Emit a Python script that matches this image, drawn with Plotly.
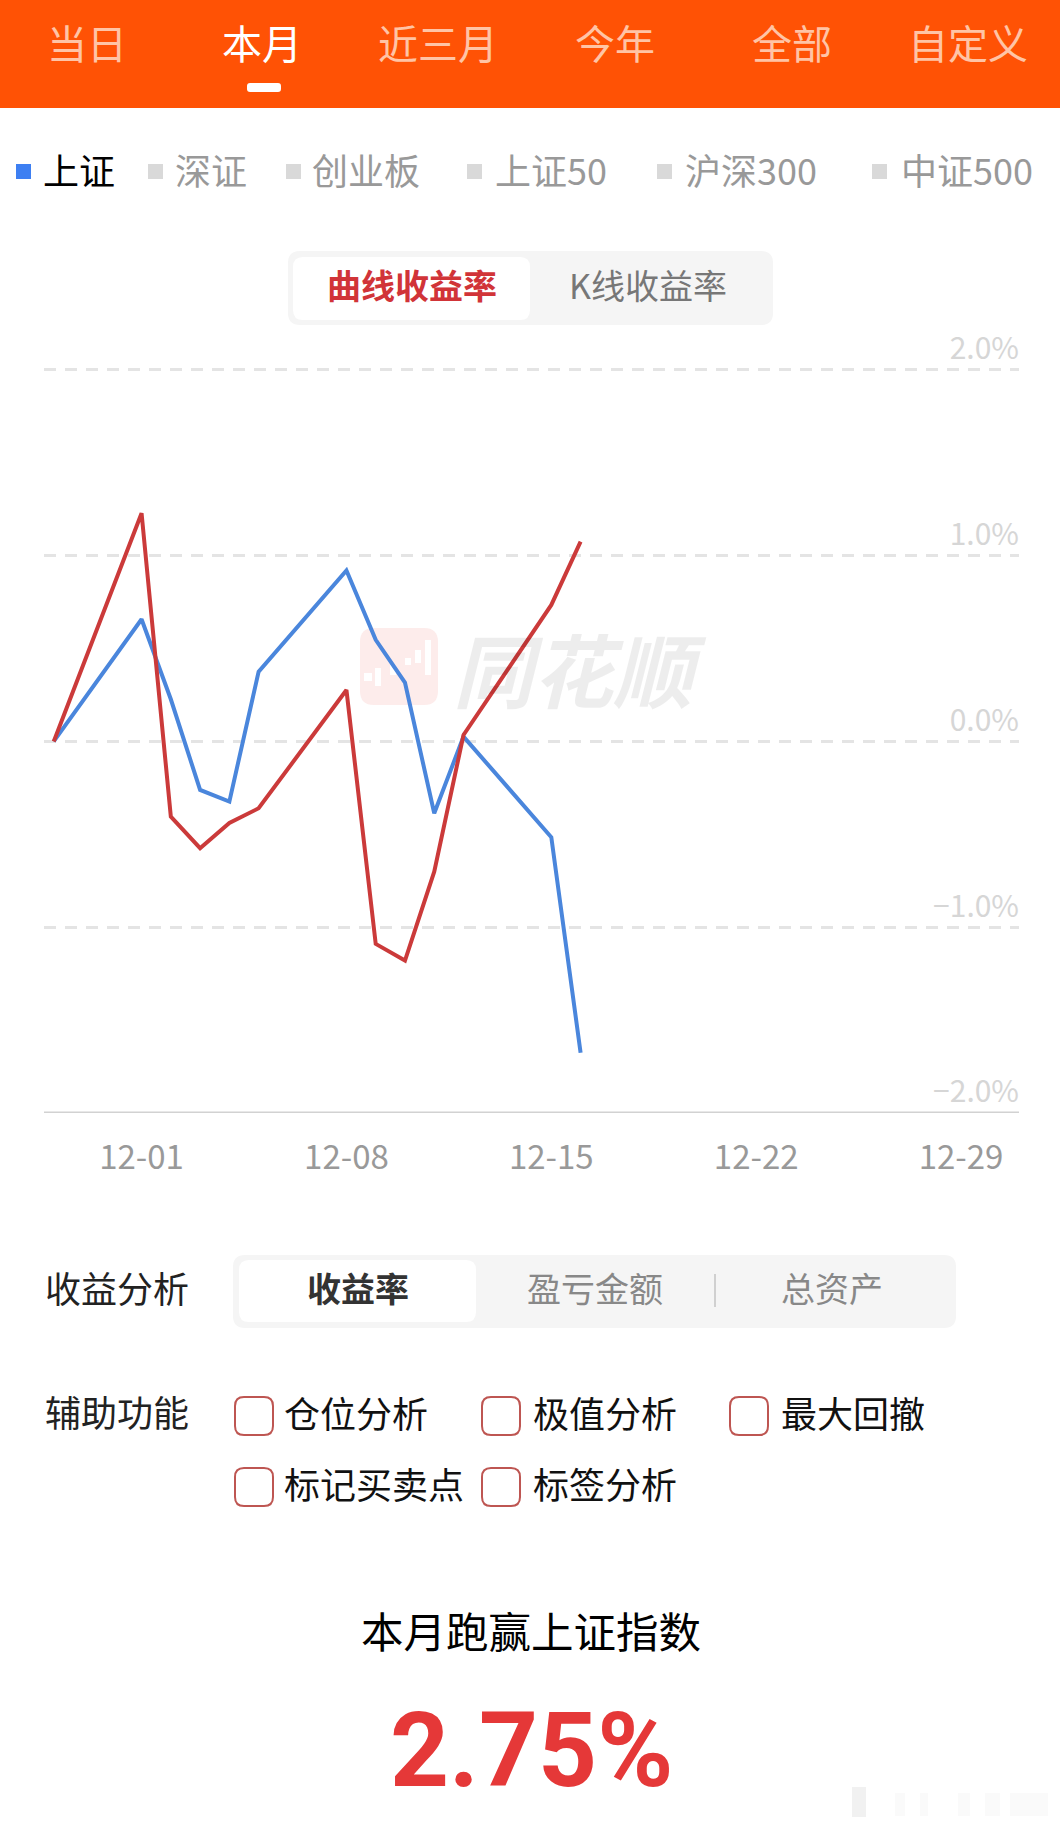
import plotly.graph_objects as go

W, H = 1060, 1829

# ---- data ----
dates = ["2025-11-28", "2025-12-01", "2025-12-02", "2025-12-03", "2025-12-04", "2025-12-05",
         "2025-12-08", "2025-12-09", "2025-12-10", "2025-12-11", "2025-12-12",
         "2025-12-15", "2025-12-16"]
index_return = [0.0, 0.658, 0.227, -0.261, -0.324, 0.376, 0.92, 0.547, 0.317, -0.387, 0.026, -0.516, -1.676]
account_return = [0.0, 1.229, -0.405, -0.575, -0.439, -0.36, 0.277, -1.09, -1.18, -0.701, 0.035, 0.735, 1.076]
y_ticks = [2, 1, 0, -1, -2]
y_labels = ["2.0%", "1.0%", "0.0%", "−1.0%", "−2.0%"]
x_ticks = ["2025-12-01", "2025-12-08", "2025-12-15", "2025-12-22", "2025-12-29"]
x_labels = ["12-01", "12-08", "12-15", "12-22", "12-29"]

CJK = "Noto Sans CJK SC"


def px(x):
    return x / W


def py(y):
    return 1 - y / H


shapes, annotations = [], []


def rect(x0, y0, x1, y1, color, layer="below"):
    shapes.append(dict(type="rect", xref="paper", yref="paper", x0=px(x0), x1=px(x1), y0=py(y0), y1=py(y1),
                       fillcolor=color, line_width=0, layer=layer))


def rrect(x0, y0, x1, y1, r, fill=None, line=None, lw=0, layer="below"):
    p = lambda x, y: f"{px(x):.5f},{py(y):.5f}"
    path = (f"M{p(x0 + r, y0)} L{p(x1 - r, y0)} Q{p(x1, y0)} {p(x1, y0 + r)} L{p(x1, y1 - r)} "
            f"Q{p(x1, y1)} {p(x1 - r, y1)} L{p(x0 + r, y1)} Q{p(x0, y1)} {p(x0, y1 - r)} "
            f"L{p(x0, y0 + r)} Q{p(x0, y0)} {p(x0 + r, y0)} Z")
    shapes.append(dict(type="path", xref="paper", yref="paper", path=path,
                       fillcolor=fill if fill else "rgba(0,0,0,0)",
                       line=dict(color=line if line else "rgba(0,0,0,0)", width=lw), layer=layer))


def text(x, y, s, size, color, weight=400, family=CJK, style="normal"):
    annotations.append(dict(xref="paper", yref="paper", x=px(x), y=py(y), text=s, showarrow=False,
                            xanchor="center", yanchor="middle",
                            font=dict(family=family, size=size, color=color, weight=weight, style=style)))


# header
rect(0, 0, W, 108, "#FF5205")
for x, s, c in [(87, "当日", "#FFC4A6"), (262, "本月", "#FFFFFF"), (438, "近三月", "#FFC4A6"),
                (615, "今年", "#FFC4A6"), (792, "全部", "#FFC4A6"), (968, "自定义", "#FFC4A6")]:
    text(x, 42, s, 40, c)
rrect(247, 83, 281, 92, 3, fill="#FFFFFF")

# index selector
for sx, x, s, c, sq in [(16, 79, "上证", "#000000", "#3D7FF2"), (148, 211, "深证", "#999999", "#D9D9D9"),
                        (286, 366, "创业板", "#999999", "#D9D9D9"), (467, 551, "上证50", "#999999", "#D9D9D9"),
                        (657, 750.5, "沪深300", "#999999", "#D9D9D9"), (872, 967, "中证500", "#999999", "#D9D9D9")]:
    rect(sx, 164, sx + 15, 179, sq)
    text(x, 169, s, 36, c)

# curve / K toggle
rrect(288, 251, 773, 325, 12, fill="#F5F5F5")
rrect(293, 257, 530, 320, 10, fill="#FFFFFF")
text(412, 284, "曲线收益率", 34, "#D13438", 700)
text(648, 284, "K线收益率", 34, "#777777")

# watermark
rrect(360, 628, 438, 705, 14, fill="#FDECEB")
for x0, y0, x1, y1 in [(364, 673, 372, 681), (375, 668, 381, 686), (390, 665, 396, 675),
                       (405, 658, 411, 665), (415, 650, 421, 663), (425, 640, 431, 675)]:
    rect(x0, y0, x1, y1, "#FFFFFF")
text(580, 667, "同花顺", 80, "rgba(0,0,0,0.07)", 700, style="italic")

# analysis tabs
text(117, 1287, "收益分析", 36, "#222222")
rrect(233, 1255, 956, 1328, 12, fill="#F5F5F5")
rrect(239, 1260, 476, 1322, 10, fill="#FFFFFF")
text(358, 1287, "收益率", 34, "#333333", 700)
text(595, 1287, "盈亏金额", 34, "#888888")
rect(714, 1274, 716, 1307, "#D0D0D0")
text(832, 1287, "总资产", 34, "#888888")

# helpers
text(117, 1411, "辅助功能", 36, "#222222")
for x0, y0, x, s in [(235, 1397, 356, "仓位分析"), (482, 1397, 604.5, "极值分析"), (730, 1397, 853, "最大回撤"),
                     (235, 1468, 374, "标记买卖点"), (482, 1468, 604.5, "标签分析")]:
    rrect(x0, y0, x0 + 38, y0 + 38, 9, line="#BE5652", lw=2)
    text(x, y0 + 15, s, 36, "#111111")

# summary
text(531, 1629, "本月跑赢上证指数", 42.5, "#000000")
text(531, 1750, "2.75%", 103, "#E53838", 700, family="Roboto")

# faint image-host mark, lower right
rect(852, 1787, 866, 1817, "#F1F1F1")
for x0, x1 in [(895, 905), (920, 928), (958, 970), (985, 1000), (1010, 1048)]:
    rect(x0, 1793, x1, 1816, "#FAFAFA")

# axis base line, at the bottom of the value scale
shapes.append(dict(type="line", xref="paper", yref="y", x0=px(44), x1=px(1019), y0=-2, y1=-2,
                   line=dict(color="#D2D2D2", width=3), layer="below"))

fig = go.Figure()
fig.add_trace(go.Scatter(x=dates, y=index_return, mode="lines", name="上证",
                         line=dict(color="#4A86DC", width=4), hoverinfo="skip"))
fig.add_trace(go.Scatter(x=dates, y=account_return, mode="lines", name="收益率",
                         line=dict(color="#CB3A3A", width=4), hoverinfo="skip"))

fig.update_layout(
    width=W, height=H, margin=dict(l=0, r=0, t=0, b=0, autoexpand=False), paper_bgcolor="#FFFFFF",
    plot_bgcolor="rgba(0,0,0,0)",
    showlegend=False, shapes=shapes, annotations=annotations, font=dict(family=CJK),
    xaxis=dict(domain=[px(44), px(1019)], type="date", range=["2025-11-27 16:00", "2025-12-30 23:30"],
               tickmode="array", tickvals=x_ticks, ticktext=x_labels, showgrid=False, zeroline=False,
               ticks="outside", ticklen=15, tickcolor="rgba(0,0,0,0)",
               tickfont=dict(size=33, color="#999999", family=CJK), showline=False),
    yaxis=dict(domain=[py(1112.9), py(364.4)], range=[-2, 2.03], side="right", tickmode="array", tickvals=y_ticks,
               ticktext=y_labels, ticklabelposition="inside top", ticklabeloverflow="allow", ticklabelstandoff=-3,
               showgrid=True, gridcolor="#E4E4E4", griddash="12px,9px", gridwidth=3, zeroline=False,
               showline=False, ticks="", tickfont=dict(size=30, color="#D6D6D6", family=CJK)),
)

fig.write_html("out.html", config={"displayModeBar": False},
               post_script="document.body.style.margin='0';document.body.style.overflow='hidden';")
